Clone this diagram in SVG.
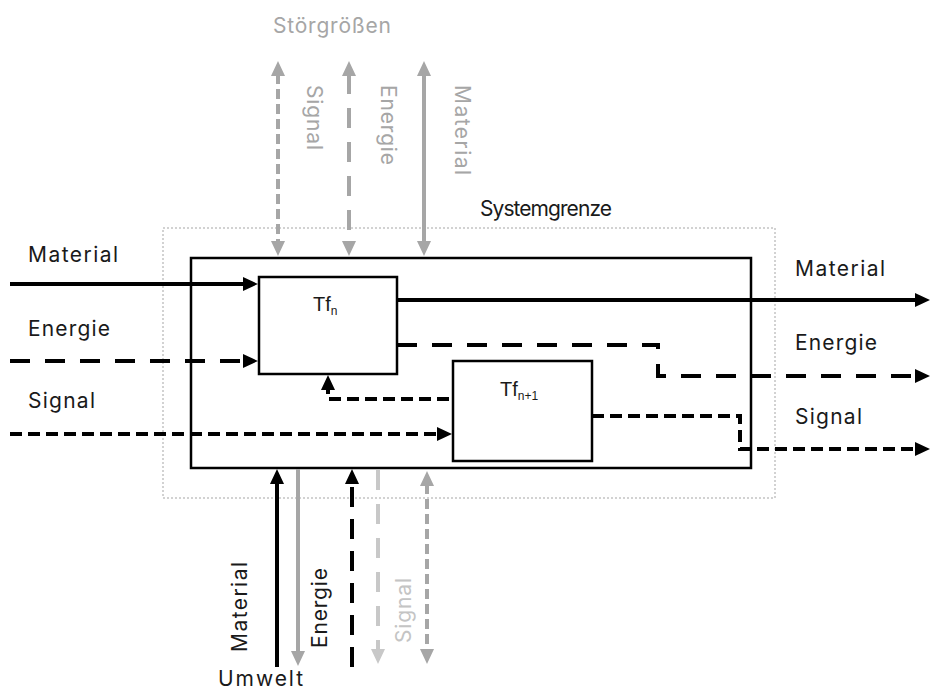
<svg xmlns="http://www.w3.org/2000/svg" width="931" height="693" viewBox="0 0 931 693">
  <style>
    .lbl { font-family: Inter, "Liberation Sans", Arial, sans-serif; font-size: 21px; fill: #1a1a1a; }
    .grey { fill: #a6a6a6; }
    .light { fill: #c4c4c4; }
    .tf { font-family: "Liberation Sans", Arial, sans-serif; font-size: 20px; fill: #1a1a1a; }
    .sub { font-size: 12px; }
    .box { fill: #ffffff; stroke: #000000; stroke-width: 2.5; }
    .flow { fill: none; stroke-linejoin: miter; stroke-linecap: butt; }
    .blk { stroke: #000000; stroke-width: 4; marker-end: url(#headBlack); }
    .gry { stroke: #a6a6a6; stroke-width: 4; }
    .lgt { stroke: #c8c8c8; stroke-width: 4; }
    .long { stroke-dasharray: 20 15; }
    .short { stroke-dasharray: 12 6; }
    .tiny { stroke-dasharray: 10 5; }
  </style>
  <defs>
    <marker id="headBlack" markerUnits="userSpaceOnUse" markerWidth="16" markerHeight="14" refX="2" refY="7" orient="auto-start-reverse">
      <path d="M0,0 L15,7 L0,14 z" fill="#000000"/>
    </marker>
    <marker id="headGrey" markerUnits="userSpaceOnUse" markerWidth="16" markerHeight="14" refX="2" refY="7" orient="auto-start-reverse">
      <path d="M0,0 L15,7 L0,14 z" fill="#a6a6a6"/>
    </marker>
    <marker id="headLight" markerUnits="userSpaceOnUse" markerWidth="16" markerHeight="14" refX="2" refY="7" orient="auto-start-reverse">
      <path d="M0,0 L15,7 L0,14 z" fill="#c8c8c8"/>
    </marker>
  </defs>

  <rect width="931" height="693" fill="#ffffff"/>

  <!-- system boundary (dotted) -->
  <g id="systemgrenze">
    <rect x="163" y="228" width="612" height="270" fill="none" stroke="#c4c4c4" stroke-width="1.5" stroke-dasharray="2 2"/>
    <text class="lbl" x="480" y="216" textLength="132">Systemgrenze</text>
  </g>

  <!-- system -->
  <g id="system">
    <rect class="box" x="191" y="258" width="560" height="210"/>
  </g>

  <g id="tf-n">
    <rect class="box" x="259" y="277" width="138" height="97"/>
    <text class="tf" x="313" y="311">Tf<tspan class="sub" dy="4">n</tspan></text>
  </g>

  <g id="tf-n1">
    <rect class="box" x="453" y="361" width="139" height="100"/>
    <text class="tf" x="500" y="396">Tf<tspan class="sub" dy="4">n+1</tspan></text>
  </g>

  <!-- flows -->
  <g id="connectors">
    <!-- inputs -->
    <path class="flow blk" d="M10,284 H245"/>
    <path class="flow blk long" d="M10,361 H245"/>
    <path class="flow blk short" d="M10,434 H439"/>
    <!-- outputs -->
    <path class="flow blk" d="M397,300 H917"/>
    <path class="flow blk long" d="M397,345 H658 V376 H917"/>
    <path class="flow blk short" d="M592,416 H740 V449 H917"/>
    <!-- feedback Tf(n+1) to Tf(n) -->
    <path class="flow blk short" d="M449,399 H328 V388"/>

    <!-- disturbances (top) -->
    <path class="flow gry tiny" d="M278,74 V243" marker-start="url(#headGrey)" marker-end="url(#headGrey)"/>
    <path class="flow gry" d="M349,74 V243" stroke-dasharray="20 14" marker-start="url(#headGrey)" marker-end="url(#headGrey)"/>
    <path class="flow gry" d="M424,74 V243" marker-start="url(#headGrey)" marker-end="url(#headGrey)"/>

    <!-- environment (bottom) -->
    <path class="flow blk" d="M277,667 V482"/>
    <path class="flow gry" d="M298,469 V653" stroke-width="3.5" marker-end="url(#headGrey)"/>
    <path class="flow blk" d="M352,667 V482" stroke-width="5" stroke-dasharray="20 12"/>
    <path class="flow lgt" d="M378,470 V651" stroke-dasharray="20 14" marker-end="url(#headLight)"/>
    <path class="flow gry tiny" d="M427,484 V651" marker-start="url(#headGrey)" marker-end="url(#headGrey)"/>
  </g>

  <!-- labels -->
  <g id="labels">
    <text class="lbl grey" x="273" y="33" textLength="118">Störgrößen</text>
    <text class="lbl grey" transform="translate(307,85) rotate(90)" textLength="65">Signal</text>
    <text class="lbl grey" transform="translate(381,85) rotate(90)" textLength="80">Energie</text>
    <text class="lbl grey" transform="translate(455,85) rotate(90)" textLength="90">Material</text>

    <text class="lbl" x="28" y="262" textLength="90">Material</text>
    <text class="lbl" x="28" y="336" textLength="82">Energie</text>
    <text class="lbl" x="28" y="408" textLength="67">Signal</text>

    <text class="lbl" x="795" y="276" textLength="90">Material</text>
    <text class="lbl" x="795" y="350" textLength="82">Energie</text>
    <text class="lbl" x="795" y="424" textLength="67">Signal</text>

    <text class="lbl" transform="translate(247,652) rotate(-90)" textLength="90">Material</text>
    <text class="lbl" transform="translate(327,648) rotate(-90)" textLength="80">Energie</text>
    <text class="lbl light" transform="translate(411,643) rotate(-90)" textLength="65">Signal</text>
    <text class="lbl" x="218" y="686" textLength="85">Umwelt</text>
  </g>
</svg>
